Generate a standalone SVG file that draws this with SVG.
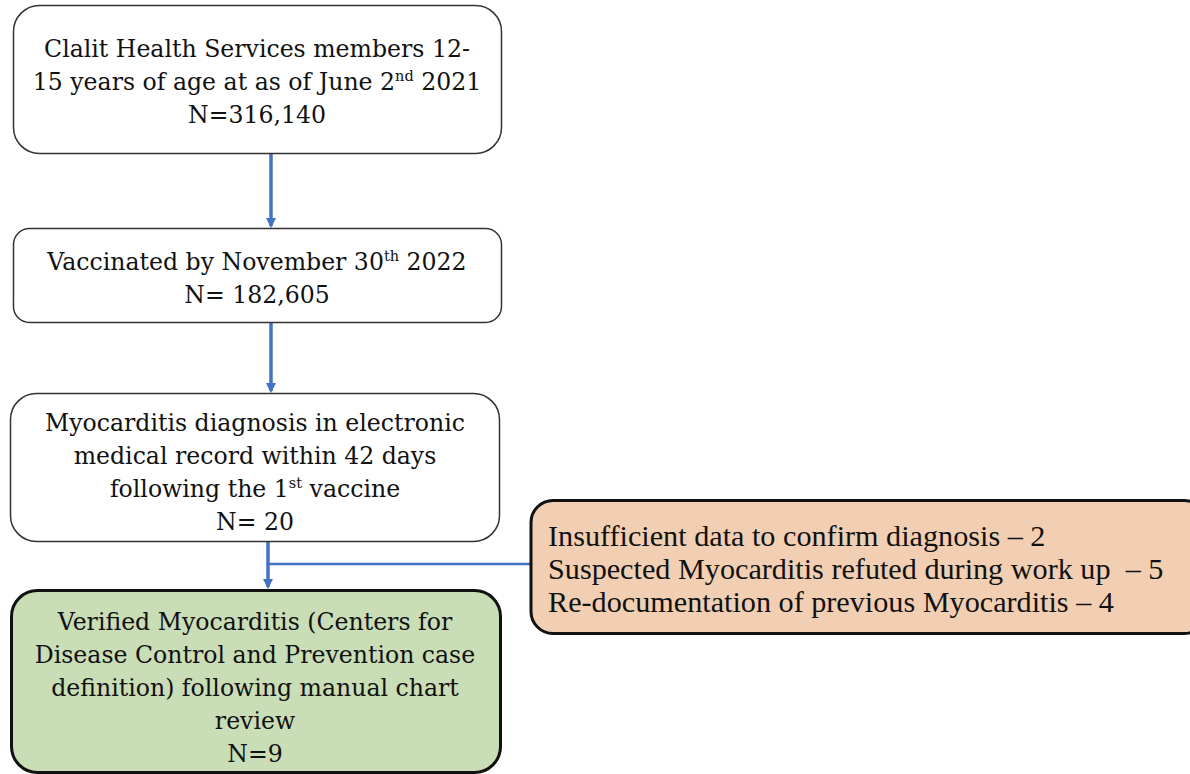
<svg xmlns="http://www.w3.org/2000/svg" width="1190" height="774" viewBox="0 0 1190 774">
<style>
.box{fill:#fff;stroke:#333;stroke-width:1.5}
.t{font-family:"DejaVu Serif",serif;font-size:23.6px;fill:#111;text-anchor:middle}
.o{font-family:"Liberation Serif",serif;font-size:30.2px;fill:#111}
.sup{font-size:14.5px}
.arr{stroke:#4472c4;stroke-width:3.5;fill:none}
.ln{stroke:#4472c4;stroke-width:2.5;fill:none}
</style>
<defs>
<marker id="ah" viewBox="0 0 10 10" refX="8" refY="5" markerWidth="3" markerHeight="3" orient="auto">
<path d="M0,0 L10,5 L0,10 z" fill="#4472c4"/>
</marker>
</defs>
<g id="connectors">
<line class="arr" x1="271" y1="153" x2="271" y2="226" marker-end="url(#ah)"/>
<line class="arr" x1="271" y1="322" x2="271" y2="391" marker-end="url(#ah)"/>
<line class="arr" x1="268" y1="542" x2="268" y2="587" marker-end="url(#ah)"/>
<line class="ln" x1="268" y1="564" x2="531" y2="564"/>
</g>
<g id="n1">
<rect class="box" x="13.5" y="5.5" width="488" height="148" rx="26"/>
<text class="t" x="257" y="57">Clalit Health Services members 12-</text>
<text class="t" x="257" y="90">15 years of age at as of June 2<tspan class="sup" dy="-9">nd</tspan><tspan dy="9"> 2021</tspan></text>
<text class="t" x="257" y="123">N=316,140</text>
</g>
<g id="n2">
<rect class="box" x="13.5" y="228.5" width="488" height="94" rx="16"/>
<text class="t" x="257" y="270">Vaccinated by November 30<tspan class="sup" dy="-9">th</tspan><tspan dy="9"> 2022</tspan></text>
<text class="t" x="257" y="303">N= 182,605</text>
</g>
<g id="n3">
<rect class="box" x="10.5" y="393.5" width="489" height="148" rx="26"/>
<text class="t" x="255" y="431">Myocarditis diagnosis in electronic</text>
<text class="t" x="255" y="464">medical record within 42 days</text>
<text class="t" x="255" y="497">following the 1<tspan class="sup" dy="-9">st</tspan><tspan dy="9"> vaccine</tspan></text>
<text class="t" x="255" y="530">N= 20</text>
</g>
<g id="n4">
<rect x="11.5" y="590.5" width="489" height="182" rx="26" fill="#c9ddb7" stroke="#111" stroke-width="3"/>
<text class="t" x="255" y="630">Verified Myocarditis (Centers for</text>
<text class="t" x="255" y="663">Disease Control and Prevention case</text>
<text class="t" x="255" y="696">definition) following manual chart</text>
<text class="t" x="255" y="729">review</text>
<text class="t" x="255" y="762">N=9</text>
</g>
<g id="n5">
<rect x="531" y="500.5" width="675" height="133" rx="22" fill="#f2cfb2" stroke="#111" stroke-width="3"/>
<text class="o" x="548" y="546">Insufficient data to confirm diagnosis – 2</text>
<text class="o" x="548" y="579" xml:space="preserve">Suspected Myocarditis refuted during work up  – 5</text>
<text class="o" x="548" y="612">Re-documentation of previous Myocarditis – 4</text>
</g>
</svg>
